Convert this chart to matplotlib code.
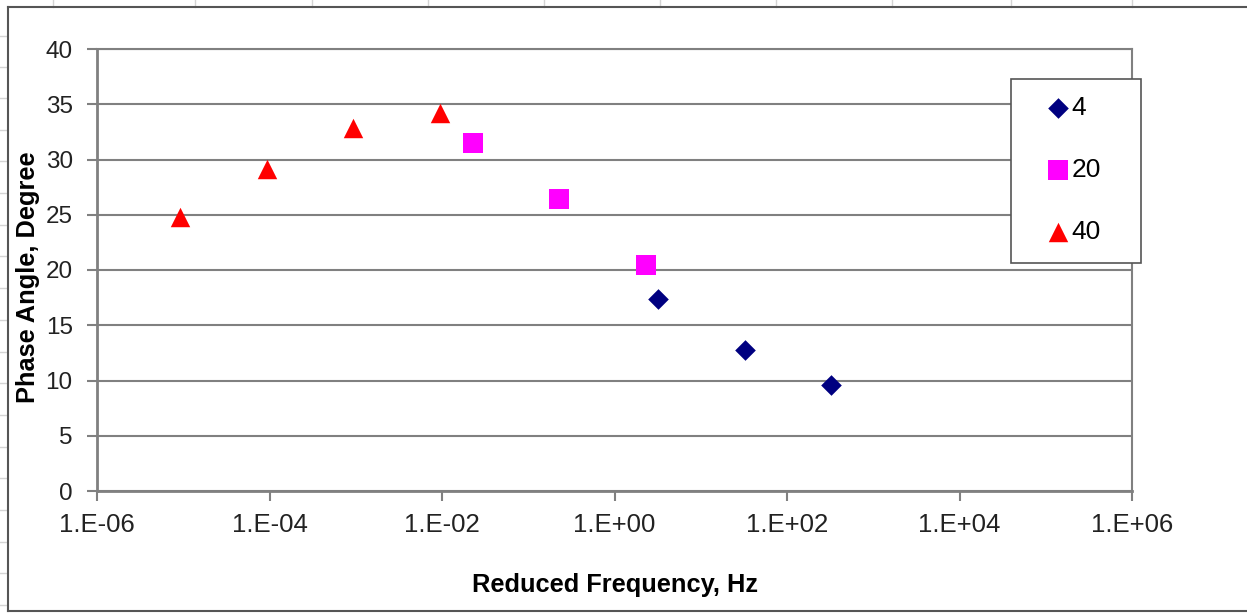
import math
import matplotlib
matplotlib.use("Agg")
import matplotlib.pyplot as plt
from matplotlib.lines import Line2D
from matplotlib.patches import Rectangle
from matplotlib.ticker import FixedLocator, FuncFormatter, NullLocator

# Data
freq_4 = [3.2, 32.5, 324]
phase_4 = [17.4, 12.8, 9.6]

freq_20 = [0.023, 0.229, 2.29]
phase_20 = [31.5, 26.4, 20.45]

freq_40 = [9.2e-6, 9.3e-5, 9.4e-4, 9.5e-3]
phase_40 = [24.8, 29.1, 32.85, 34.2]

series_labels = ["4", "20", "40"]
x_ticks = [1e-6, 1e-4, 1e-2, 1e0, 1e2, 1e4, 1e6]
y_ticks = [0, 5, 10, 15, 20, 25, 30, 35, 40]

plt.rcParams["font.family"] = ["Liberation Sans", "DejaVu Sans"]

W, H = 1247, 613
fig = plt.figure(figsize=(W / 100, H / 100), dpi=100)

# spreadsheet background lines around the chart object
light = "#d4d4d4"
for xp in [53, 195, 312, 428, 544, 660, 776, 892, 1011, 1132]:
    fig.add_artist(Line2D([xp / W, xp / W], [1, 1 - 7 / H], color=light, lw=1))
for yp in [36, 67, 98, 130, 161, 193, 225, 256, 288, 320, 352, 383, 415, 447, 478, 510, 542, 573, 605]:
    fig.add_artist(Line2D([0, 7 / W], [1 - yp / H, 1 - yp / H], color=light, lw=1))

# chart object border
border = "#555555"
fig.add_artist(Line2D([8 / W, 8 / W], [1 - 7 / H, 1 - 611 / H], color=border, lw=1.5))
fig.add_artist(Line2D([8 / W, 1], [1 - 7 / H, 1 - 7 / H], color=border, lw=1.5))
fig.add_artist(Line2D([8 / W, 1], [1 - 611 / H, 1 - 611 / H], color=border, lw=1.5))

ax = fig.add_axes([97 / W, 1 - 491 / H, 1035 / W, 442 / H])
ax.set_xscale("log")
ax.set_xlim(1e-6, 1e6)
ax.set_ylim(0, 40)

ax.scatter(freq_4, phase_4, marker="D", s=10.5 ** 2, color="#000080", linewidths=0, label=series_labels[0], zorder=3)
ax.scatter(freq_20, phase_20, marker="s", s=14.5 ** 2, color="#ff00ff", linewidths=0, label=series_labels[1], zorder=3)
ax.scatter(freq_40, phase_40, marker="^", s=14 ** 2, color="#ff0000", linewidths=0, label=series_labels[2], zorder=3)

ax.xaxis.set_major_locator(FixedLocator(x_ticks))
ax.xaxis.set_minor_locator(NullLocator())
ax.xaxis.set_major_formatter(FuncFormatter(lambda v, p: "1.E%+03d" % round(math.log10(v))))
ax.set_yticks(y_ticks)

ax.grid(axis="y", color="#808080", lw=1.5)
ax.set_axisbelow(True)
for s in ax.spines.values():
    s.set_color("#808080")
    s.set_linewidth(1.5)
ax.spines["left"].set_linewidth(2)
ax.spines["bottom"].set_linewidth(2)

ax.tick_params(axis="both", direction="out", length=7, width=1.5, color="#808080", labelcolor="#222222")
ax.tick_params(axis="x", labelsize=18.5, pad=9)
ax.tick_params(axis="y", labelsize=17.5, pad=10.5)

ax.set_xlabel("Reduced Frequency, Hz", fontsize=18.3, fontweight="bold", labelpad=26)
ax.set_ylabel("Phase Angle, Degree", fontsize=18.3, fontweight="bold")
ax.yaxis.set_label_coords(-0.055, 0.483)

# legend: box drawn separately so its padding can match the reference
ax.add_patch(Rectangle((1011 / W, 1 - 263 / H), 130 / W, 184 / H, transform=fig.transFigure,
                       facecolor="white", edgecolor="#555555", lw=1.2, zorder=4, clip_on=False))
leg = ax.legend(loc="upper left", bbox_to_anchor=(1047 / W, 1 - 96 / H), bbox_transform=fig.transFigure,
                fontsize=19, frameon=False, handlelength=0.8, handletextpad=0.13,
                labelspacing=1.44, borderpad=0, borderaxespad=0, scatterpoints=1)
leg.set_zorder(5)

fig.savefig("out.png", dpi=100, facecolor="white")
